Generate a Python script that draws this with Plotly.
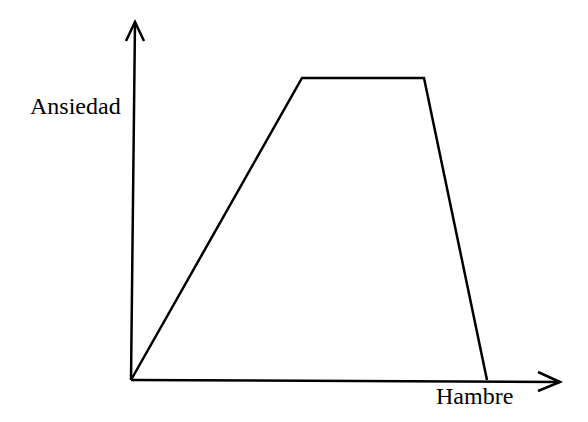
import plotly.graph_objects as go

# Data (Hambre vs Ansiedad), in axis units
hambre = [0, 171, 293, 356]
ansiedad = [0, 302, 302, 0]
x_label = "Hambre"
y_label = "Ansiedad"

fig = go.Figure()
fig.add_trace(go.Scatter(x=hambre, y=ansiedad, mode="lines",
                         line=dict(color="black", width=2.5), showlegend=False,
                         hoverinfo="skip"))

axis_line = dict(color="black", width=2.5)
shapes = [
    # y axis
    dict(type="line", xref="x", yref="y", x0=0, y0=0, x1=4, y1=358, line=axis_line),
    # y arrow head
    dict(type="path", xref="x", yref="y", path="M -5,339 L 4,358 L 13,339", line=axis_line),
    # x axis
    dict(type="line", xref="x", yref="y", x0=0, y0=0, x1=429, y1=-2, line=axis_line),
    # x arrow head
    dict(type="path", xref="x", yref="y", path="M 407,8 L 429,-2 L 407,-11", line=axis_line),
]

annotations = [
    dict(text=y_label, x=-56, y=274, xref="x", yref="y", showarrow=False,
         font=dict(family="Liberation Serif", size=24, color="black")),
    dict(text=x_label, x=343, y=-16, xref="x", yref="y", showarrow=False,
         font=dict(family="Liberation Serif", size=24, color="black")),
]

fig.update_layout(
    width=588, height=422,
    margin=dict(l=0, r=0, t=0, b=0),
    paper_bgcolor="white", plot_bgcolor="white",
    xaxis=dict(range=[-123, 465], visible=False, fixedrange=True),
    yaxis=dict(range=[-50, 372], visible=False, fixedrange=True),
    shapes=shapes, annotations=annotations,
)

fig.write_html("out.html")
